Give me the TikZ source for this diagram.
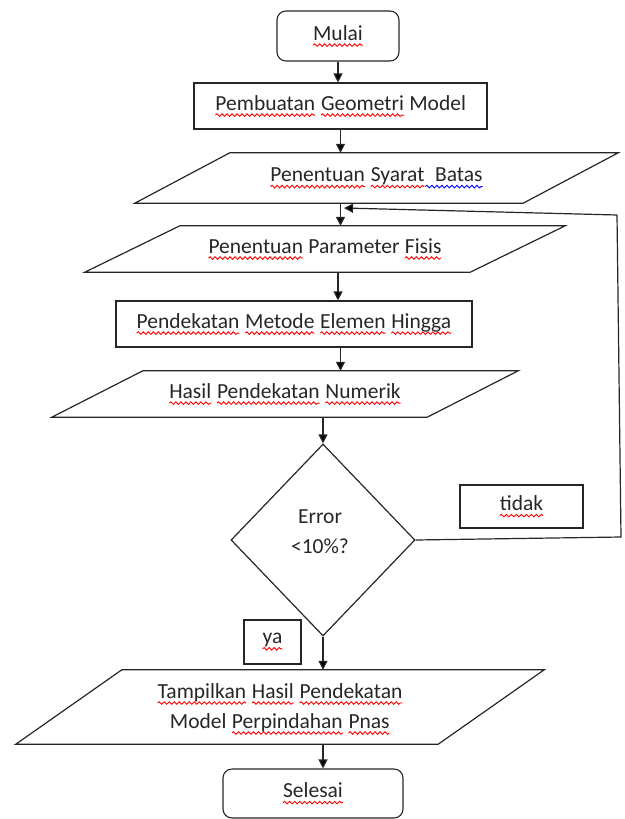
\documentclass[tikz,border=0pt]{standalone}
\usepackage{fontspec}
\setmainfont{Carlito}
\usetikzlibrary{arrows.meta,decorations.pathmorphing,shapes.geometric}
\definecolor{ink}{HTML}{262626}
\tikzset{
  wavy/.style={line width=0.9pt, sharp corners, decorate,
    decoration={snake, amplitude=1.3pt, segment length=5pt}},
  box/.style={draw=ink, line width=1.1pt, shape=rectangle, inner sep=0pt, text=ink},
  rbox/.style={box, rounded corners=9pt},
  pbox/.style={shape=rectangle, draw=none, inner sep=0pt, text=ink},
  plines/.style={draw=ink, line width=1.2pt, line join=miter},
  dia/.style={draw=ink, line width=1.2pt, shape=diamond, inner sep=0pt},
  txt/.style={shape=rectangle, draw=none, inner sep=0pt, text=ink},
  arr/.style={draw=ink, line width=1.2pt, -{Triangle[length=9pt,width=9pt]}},
  fb/.style={draw=ink, line width=1.2pt}
}
\newcommand\wavyword[2]{\tikz[baseline=(ww.base)]{\node[shape=rectangle,draw=none,fill=none,inner sep=0pt,outer sep=0pt,minimum width=0pt,minimum height=0pt,anchor=base] (ww) at (0,0) {#2};\draw[wavy,#1] ([yshift=-5pt]ww.base west) -- ([yshift=-5pt]ww.base east);}}
\newcommand\sqr[1]{\wavyword{red}{#1}}
\newcommand\sqb[1]{\wavyword{blue}{#1}}
\newcommand\paraoutline[2]{\draw[plines] ([xshift=#2]#1.north west) -- ([xshift=#2]#1.north east) -- ([xshift=-#2]#1.south east) -- ([xshift=-#2]#1.south west) -- cycle;}
\begin{document}
\begin{tikzpicture}[x=1pt,y=-1pt,font=\fontsize{21.5}{30}\selectfont]
\useasboundingbox (0,0) rectangle (624,819);

\node[rbox, minimum width=122pt, minimum height=50pt] (mulai) at (338,36) {\sqr{Mulai}};
\node[box, minimum width=293pt, minimum height=46pt] (pemb) at (340.5,106) {\sqr{Pembuatan} \sqr{Geometri} Model};

\node[pbox, minimum width=388pt, minimum height=50pt] (syarat) at (376.5,178) {\sqr{Penentuan} \sqr{Syarat}\sqb{\ \ Batas}};
\paraoutline{syarat}{47.5pt}

\node[pbox, minimum width=385pt, minimum height=46pt] (param) at (325,249) {\sqr{Penentuan} Parameter \sqr{Fisis}};
\paraoutline{param}{47.5pt}

\node[box, minimum width=356pt, minimum height=46pt] (pendek) at (294,324) {\sqr{Pendekatan} \sqr{Metode} \sqr{Elemen} \sqr{Hingga}};

\node[pbox, minimum width=375pt, minimum height=46pt] (hasil) at (285,394) {\sqr{Hasil} \sqr{Pendekatan} \sqr{Numerik}};
\paraoutline{hasil}{45.5pt}

\node[dia, minimum width=184pt, minimum height=192pt] (dia) at (323,540) {};
\node[txt, align=center] (errt) at (320,532) {Error\\<10\%?};

\node[box, minimum width=123pt, minimum height=43pt] (tidak) at (521.5,506.5) {\sqr{tidak}};
\node[box, minimum width=57pt, minimum height=44pt] (ya) at (272.5,642) {\sqr{ya}};

\node[pbox, minimum width=422pt, minimum height=74pt] (tampil) at (280,707) {\begin{tabular}{@{}c@{}}\sqr{Tampilkan} \sqr{Hasil} \sqr{Pendekatan}\\ Model \sqr{Perpindahan} \sqr{Pnas}\end{tabular}};
\paraoutline{tampil}{53pt}

\node[rbox, minimum width=180pt, minimum height=49pt] (selesai) at (313,793.5) {\sqr{Selesai}};

% connectors
\draw[arr] (mulai.south) -- (mulai.south |- pemb.north);
\draw[arr] (pemb.south) -- (pemb.south |- syarat.north);
\draw[arr] (syarat.south -| pemb.south) -- (param.north -| pemb.south);
\draw[arr] (param.south -| mulai.south) -- (pendek.north -| mulai.south);
\draw[arr] (pendek.south -| pemb.south) -- (hasil.north -| pemb.south);
\draw[arr] (hasil.south -| dia.north) -- (dia.north);
\draw[arr] (dia.south) -- (tampil.north -| dia.south);
\draw[arr] (tampil.south -| dia.south) -- (selesai.north -| dia.south);

\coordinate (fbA) at (621,537);
\coordinate (fbB) at (617,215);
\coordinate (fbE) at (344,208);
\draw[fb] (dia.east) -- (fbA) -- (fbB);
\draw[arr] (fbB) -- (fbE);
\end{tikzpicture}
\end{document}
